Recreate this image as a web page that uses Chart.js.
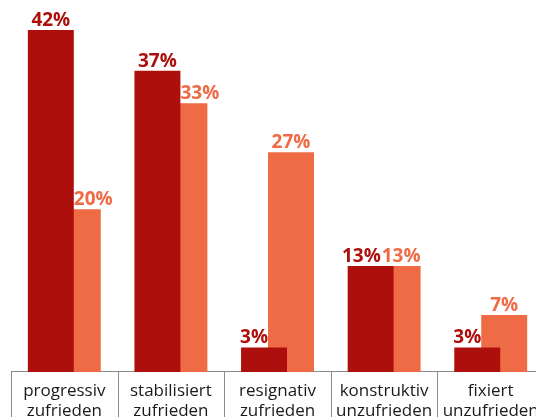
<!DOCTYPE html>
<html>
<head>
<meta charset="utf-8">
<script src="https://cdn.jsdelivr.net/npm/chart.js@4/dist/chart.umd.min.js"></script>
<style>
  html, body { margin: 0; padding: 0; background: #fff; }
  #wrap { width: 536px; height: 417px; overflow: hidden; position: relative; }
  canvas { position: absolute; left: 0; top: 0; }
</style>
</head>
<body>
<div id="wrap"><canvas id="chart" width="548" height="430"></canvas></div>
<script>
// Kategorien (Beschriftung der Boxen unten)
const kategorien = [
  ["progressiv", "zufrieden"],
  ["stabilisiert", "zufrieden"],
  ["resignativ", "zufrieden"],
  ["konstruktiv", "unzufrieden"],
  ["fixiert", "unzufrieden"]
];

// Werte in Prozent
const werteDunkel = [42, 37, 3, 13, 3];
const werteHell = [20, 33, 27, 13, 7];

const farbeDunkel = "#ad0f0c";
const farbeHell = "#ef6b46";
const linienFarbe = "#8c8c8c";

// Prozentwerte über den Balken
const wertLabels = {
  id: "wertLabels",
  afterDatasetsDraw(chart) {
    const ctx = chart.ctx;
    const m0 = chart.getDatasetMeta(0).data;
    const m1 = chart.getDatasetMeta(1).data;
    ctx.save();
    ctx.font = "bold 19px 'Open Sans'";
    ctx.textBaseline = "alphabetic";
    ctx.textAlign = "left";
    for (let i = 0; i < werteDunkel.length; i++) {
      const a = werteDunkel[i], b = werteHell[i];
      const d = m0[i], h = m1[i];
      const tA = a + "%", tB = b + "%";
      const wA = ctx.measureText(tA).width, wB = ctx.measureText(tB).width;
      const dR = d.x + d.width / 2;
      const hL = h.x - h.width / 2, hR = h.x + h.width / 2;
      let xA, xB;
      if (a > b) {
        xA = d.x - wA / 2;
        xB = dR;
      } else if (a === b) {
        xB = hR - wB;
        xA = xB - wA - 1;
      } else {
        xB = h.x - wB / 2;
        xA = hL - wA;
      }
      ctx.fillStyle = farbeHell;
      ctx.fillText(tB, xB, h.y - 4);
      ctx.fillStyle = farbeDunkel;
      ctx.fillText(tA, xA, d.y - 4);
    }
    ctx.restore();
  }
};

// senkrechte Trennlinien der Beschriftungsboxen
const boxLinien = {
  id: "boxLinien",
  afterDraw(chart) {
    const ctx = chart.ctx;
    const x = chart.scales.x;
    const n = kategorien.length;
    const breite = (x.right - x.left) / n;
    ctx.save();
    ctx.strokeStyle = linienFarbe;
    ctx.lineWidth = 1;
    ctx.beginPath();
    for (let i = 0; i <= n; i++) {
      const px = Math.round(x.left + i * breite) + 0.5;
      ctx.moveTo(px, chart.chartArea.bottom);
      ctx.lineTo(px, chart.height);
    }
    ctx.stroke();
    ctx.restore();
  }
};

new Chart(document.getElementById("chart"), {
  type: "bar",
  data: {
    labels: kategorien,
    datasets: [
      { data: werteDunkel, backgroundColor: farbeDunkel },
      { data: werteHell, backgroundColor: farbeHell }
    ]
  },
  options: {
    responsive: false,
    animation: false,
    devicePixelRatio: 1,
    layout: { padding: { left: 11, right: 2, top: 0, bottom: 0 } },
    categoryPercentage: 0.506,
    barPercentage: 1.704,
    plugins: { legend: { display: false }, tooltip: { enabled: false } },
    scales: {
      x: {
        border: { display: true, color: linienFarbe, width: 1 },
        grid: { drawOnChartArea: false, drawTicks: false },
        ticks: {
          padding: 9,
          maxRotation: 0,
          autoSkip: false,
          color: "#1a1a1a",
          font: { family: "'Open Sans'", size: 17, lineHeight: 1.18 }
        }
      },
      y: {
        display: false,
        min: 0,
        max: 45.7
      }
    }
  },
  plugins: [wertLabels, boxLinien]
});
</script>
</body>
</html>
